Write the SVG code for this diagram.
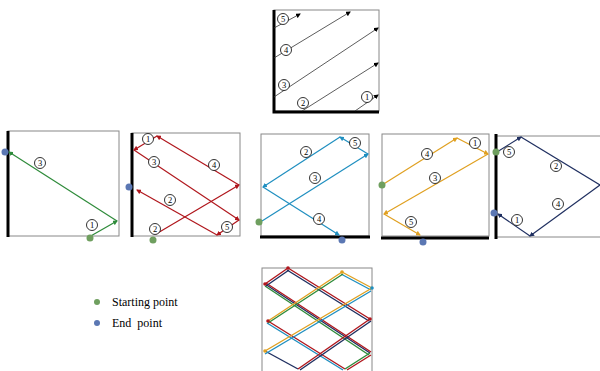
<svg xmlns="http://www.w3.org/2000/svg" width="600" height="371" viewBox="0 0 600 371">
<style>
.box{fill:#fff;stroke:#888;stroke-width:1}
.thick{stroke:#000;stroke-width:3;fill:none}
.lbl circle{fill:#fff;stroke:#000;stroke-width:0.8}
.lbl text{font-family:"Liberation Serif",serif;font-size:8.5px;text-anchor:middle;fill:#000}
.k{stroke:#333;stroke-width:0.8;fill:none}
.g{stroke:#2e8b3a;stroke-width:1.2;fill:none}
.r{stroke:#b0161c;stroke-width:1.2;fill:none}
.b{stroke:#1f8fc0;stroke-width:1.2;fill:none}
.o{stroke:#e0a020;stroke-width:1.2;fill:none}
.n{stroke:#1f2f60;stroke-width:1.2;fill:none}
.sd{fill:#6f9f5f}
.ed{fill:#5b77b3}
.leg{font-family:"Liberation Serif",serif;font-size:12px;fill:#000}
</style>
<defs>
<marker id="ak" markerWidth="5" markerHeight="5" refX="4" refY="2.5" orient="auto" markerUnits="userSpaceOnUse"><path d="M0,0 L5,2.5 L0,5 Z" fill="#000"/></marker>
<marker id="ag" markerWidth="5" markerHeight="5" refX="4" refY="2.5" orient="auto" markerUnits="userSpaceOnUse"><path d="M0,0 L5,2.5 L0,5 Z" fill="#2e8b3a"/></marker>
<marker id="ar" markerWidth="5" markerHeight="5" refX="4" refY="2.5" orient="auto" markerUnits="userSpaceOnUse"><path d="M0,0 L5,2.5 L0,5 Z" fill="#b0161c"/></marker>
<marker id="ab" markerWidth="5" markerHeight="5" refX="4" refY="2.5" orient="auto" markerUnits="userSpaceOnUse"><path d="M0,0 L5,2.5 L0,5 Z" fill="#1f8fc0"/></marker>
<marker id="ao" markerWidth="5" markerHeight="5" refX="4" refY="2.5" orient="auto" markerUnits="userSpaceOnUse"><path d="M0,0 L5,2.5 L0,5 Z" fill="#e0a020"/></marker>
<marker id="an" markerWidth="5" markerHeight="5" refX="4" refY="2.5" orient="auto" markerUnits="userSpaceOnUse"><path d="M0,0 L5,2.5 L0,5 Z" fill="#1f2f60"/></marker>
</defs>

<!-- Top box -->
<g id="top">
<rect class="box" x="274" y="10" width="105" height="101" stroke="#555"/>
<path class="thick" d="M274,10 V112 H379"/>
<g id="top-connectors">
<line class="k" x1="274" y1="28" x2="300" y2="14" marker-end="url(#ak)"/>
<line class="k" x1="274" y1="58" x2="350" y2="12" marker-end="url(#ak)"/>
<line class="k" x1="274" y1="97" x2="378" y2="28" marker-end="url(#ak)"/>
<line class="k" x1="302" y1="111" x2="378" y2="63" marker-end="url(#ak)"/>
<line class="k" x1="355" y1="111" x2="378" y2="95" marker-end="url(#ak)"/>
</g>
<g class="lbl"><circle cx="283" cy="19" r="5.5"/><text x="283" y="22">5</text></g>
<g class="lbl"><circle cx="286" cy="50" r="5.5"/><text x="286" y="53">4</text></g>
<g class="lbl"><circle cx="284" cy="85" r="5.5"/><text x="284" y="88">3</text></g>
<g class="lbl"><circle cx="303" cy="103" r="5.5"/><text x="303" y="106">2</text></g>
<g class="lbl"><circle cx="367" cy="97" r="5.5"/><text x="367" y="100">1</text></g>
</g>

<!-- Box A green -->
<g id="boxA">
<rect class="box" x="8" y="131" width="111" height="105"/>
<line class="thick" x1="8" y1="131" x2="8" y2="237"/>
<g id="boxA-connectors">
<line class="g" x1="89" y1="237" x2="117" y2="221" marker-end="url(#ag)"/>
<line class="g" x1="117" y1="221" x2="9" y2="152" marker-end="url(#ag)"/>
</g>
<g class="lbl"><circle cx="40" cy="163" r="5.5"/><text x="40" y="166">3</text></g>
<g class="lbl"><circle cx="92" cy="225" r="5.5"/><text x="92" y="228">1</text></g>
<circle class="ed" cx="5" cy="152" r="3.5"/>
<circle class="sd" cx="90" cy="238" r="3.5"/>
</g>

<!-- Box B red -->
<g id="boxB">
<rect class="box" x="132" y="133" width="108" height="103"/>
<line class="thick" x1="132" y1="133" x2="132" y2="237"/>
<g id="boxB-connectors">
<line class="r" x1="156" y1="234" x2="239" y2="185" marker-end="url(#ar)"/>
<line class="r" x1="239" y1="185" x2="157" y2="136" marker-end="url(#ar)"/>
<line class="r" x1="157" y1="136" x2="134" y2="150" marker-end="url(#ar)"/>
<line class="r" x1="134" y1="150" x2="239" y2="220" marker-end="url(#ar)"/>
<line class="r" x1="239" y1="220" x2="217" y2="235" marker-end="url(#ar)"/>
<line class="r" x1="217" y1="235" x2="137" y2="190" marker-end="url(#ar)"/>
</g>
<g class="lbl"><circle cx="148" cy="139" r="5.5"/><text x="148" y="142">1</text></g>
<g class="lbl"><circle cx="154" cy="162" r="5.5"/><text x="154" y="165">3</text></g>
<g class="lbl"><circle cx="214" cy="165" r="5.5"/><text x="214" y="168">4</text></g>
<g class="lbl"><circle cx="170" cy="200" r="5.5"/><text x="170" y="203">2</text></g>
<g class="lbl"><circle cx="155" cy="229" r="5.5"/><text x="155" y="232">2</text></g>
<g class="lbl"><circle cx="227" cy="227" r="5.5"/><text x="227" y="230">5</text></g>
<circle class="ed" cx="129" cy="187" r="3.5"/>
<circle class="sd" cx="153" cy="240" r="3.5"/>
</g>

<!-- Box C blue -->
<g id="boxC">
<rect class="box" x="261" y="134" width="108" height="102"/>
<line class="thick" x1="260" y1="237" x2="370" y2="237"/>
<g id="boxC-connectors">
<line class="b" x1="262" y1="221" x2="368" y2="154" marker-end="url(#ab)"/>
<line class="b" x1="368" y1="154" x2="340" y2="137" marker-end="url(#ab)"/>
<line class="b" x1="340" y1="137" x2="263" y2="187" marker-end="url(#ab)"/>
<line class="b" x1="263" y1="187" x2="339" y2="235" marker-end="url(#ab)"/>
</g>
<g class="lbl"><circle cx="306" cy="152" r="5.5"/><text x="306" y="155">2</text></g>
<g class="lbl"><circle cx="355" cy="143" r="5.5"/><text x="355" y="146">5</text></g>
<g class="lbl"><circle cx="315" cy="178" r="5.5"/><text x="315" y="181">3</text></g>
<g class="lbl"><circle cx="319" cy="219" r="5.5"/><text x="319" y="222">4</text></g>
<circle class="sd" cx="259" cy="222" r="3.5"/>
<circle class="ed" cx="342" cy="240" r="3.5"/>
</g>

<!-- Box D orange -->
<g id="boxD">
<rect class="box" x="382" y="134" width="107" height="102"/>
<line class="thick" x1="381" y1="238" x2="489" y2="238"/>
<g id="boxD-connectors">
<line class="o" x1="382" y1="185" x2="457" y2="138" marker-end="url(#ao)"/>
<line class="o" x1="457" y1="138" x2="488" y2="154" marker-end="url(#ao)"/>
<line class="o" x1="488" y1="154" x2="384" y2="214" marker-end="url(#ao)"/>
<line class="o" x1="384" y1="214" x2="420" y2="235" marker-end="url(#ao)"/>
</g>
<g class="lbl"><circle cx="427" cy="154" r="5.5"/><text x="427" y="157">4</text></g>
<g class="lbl"><circle cx="475" cy="143" r="5.5"/><text x="475" y="146">1</text></g>
<g class="lbl"><circle cx="435" cy="178" r="5.5"/><text x="435" y="181">3</text></g>
<g class="lbl"><circle cx="411" cy="222" r="5.5"/><text x="411" y="225">5</text></g>
<circle class="sd" cx="382" cy="185" r="3.5"/>
<circle class="ed" cx="423" cy="242" r="3.5"/>
</g>

<!-- Box E navy -->
<g id="boxE">
<path d="M496,136 H600 M496,237 H600" stroke="#888" stroke-width="1" fill="none"/>
<line class="thick" x1="496" y1="134" x2="496" y2="239"/>
<g id="boxE-connectors">
<line class="n" x1="497" y1="152" x2="521" y2="137" marker-end="url(#an)"/>
<line class="n" x1="521" y1="137" x2="600" y2="185"/>
<line class="n" x1="600" y1="185" x2="530" y2="236" marker-end="url(#an)"/>
<line class="n" x1="530" y1="236" x2="498" y2="214" marker-end="url(#an)"/>
</g>
<g class="lbl"><circle cx="509" cy="152" r="5.5"/><text x="509" y="155">5</text></g>
<g class="lbl"><circle cx="556" cy="166" r="5.5"/><text x="556" y="169">2</text></g>
<g class="lbl"><circle cx="558" cy="204" r="5.5"/><text x="558" y="207">4</text></g>
<g class="lbl"><circle cx="517" cy="220" r="5.5"/><text x="517" y="223">1</text></g>
<circle class="sd" cx="496" cy="152" r="3.5"/>
<circle class="ed" cx="494" cy="213" r="3.5"/>
</g>

<!-- Bottom combined box -->
<g id="combined">
<rect class="box" x="262" y="268" width="110" height="110"/>
<g id="combined-connectors" stroke-width="1.4" fill="none">
<path d="M288,268 L370,319" stroke="#b0161c"/>
<path d="M287,270 L369,321" stroke="#1f2f60"/>
<path d="M265,284 L370,353" stroke="#1f2f60"/>
<path d="M265,286 L369,355" stroke="#2e8b3a"/>
<path d="M266,283 L371,352" stroke="#b0161c"/>
<path d="M268,321 L345,369" stroke="#b0161c"/>
<path d="M267,323 L343,370" stroke="#1f8fc0"/>
<path d="M265,351 L298,369" stroke="#1f2f60"/>
<path d="M342,272 L372,288" stroke="#e0a020"/>
<path d="M341,274 L371,290" stroke="#1f8fc0"/>
<path d="M265,351 L372,288" stroke="#e0a020"/>
<path d="M265,354 L371,291" stroke="#1f8fc0"/>
<path d="M298,369 L370,319" stroke="#b0161c"/>
<path d="M300,370 L371,321" stroke="#1f2f60"/>
<path d="M268,321 L342,272" stroke="#e0a020"/>
<path d="M268,323 L343,274" stroke="#2e8b3a"/>
<path d="M345,369 L370,353" stroke="#2e8b3a"/>
<path d="M347,370 L371,355" stroke="#b0161c"/>
<path d="M265,284 L288,268" stroke="#b0161c"/>
<path d="M266,286 L289,270" stroke="#1f2f60"/>
</g>
<circle cx="288" cy="268" r="1.8" fill="#b0161c"/>
<circle cx="265" cy="284" r="1.8" fill="#b0161c"/>
<circle cx="370" cy="319" r="1.8" fill="#b0161c"/>
<circle cx="268" cy="321" r="1.8" fill="#b0161c"/>
<circle cx="372" cy="288" r="1.8" fill="#1f8fc0"/>
<circle cx="342" cy="272" r="1.8" fill="#e0a020"/>
<circle cx="265" cy="351" r="1.8" fill="#e0a020"/>
</g>

<!-- Legend -->
<g id="legend">
<circle class="sd" cx="97" cy="302" r="3"/>
<text class="leg" x="112" y="306">Starting point</text>
<circle class="ed" cx="97" cy="323" r="3"/>
<text class="leg" x="112" y="327" xml:space="preserve">End  point</text>
</g>
</svg>
